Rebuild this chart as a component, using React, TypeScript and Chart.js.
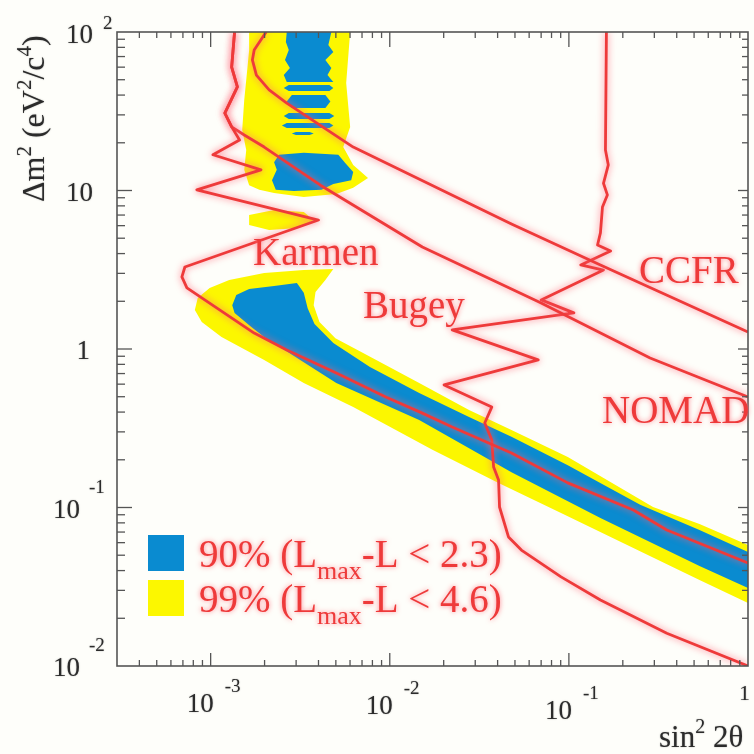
import React, { useEffect, useRef } from 'react';
import { Chart, registerables } from 'chart.js';

Chart.register(...registerables);

type P = [number, number];

// axis ranges (sin^2 2θ, Δm^2 in eV^2/c^4)
const xRange: P = [3.2e-4, 1];
const yRange: P = [0.01, 100];

const xTickValues = [1e-3, 1e-2, 1e-1, 1];
const xTickLabels: [string, string][] = [['10', '-3'], ['10', '-2'], ['10', '-1'], ['1', '']];
const yTickValues = [100, 10, 1, 0.1, 0.01];
const yTickLabels: [string, string][] = [['10', '2'], ['10', ''], ['1', ''], ['10', '-1'], ['10', '-2']];

const curveLabels = ['Karmen', 'Bugey', 'CCFR', 'NOMAD'];
const legendLabels: [string, string, string][] = [
  ['90% (L', 'max', '-L < 2.3)'],
  ['99% (L', 'max', '-L < 4.6)'],
];

// exclusion curves
const karmen: P[] = [
  [1.36e-3, 100], [1.31e-3, 60.1], [1.41e-3, 45.0], [1.2e-3, 30.8], [1.31e-3, 25.2], [1.45e-3, 20.8],
  [1.03e-3, 16.8], [1.91e-3, 13.5], [8.37e-4, 10.1], [4.0e-3, 6.51], [7.18e-4, 3.29], [6.91e-4, 2.85],
  [7.37e-4, 2.43], [8.92e-4, 2.1], [1.75e-3, 1.26], [2.66e-3, 0.986], [5.03e-3, 0.706], [9.5e-3, 0.498],
  [1.52e-2, 0.394], [2.23e-2, 0.322], [4.78e-2, 0.221], [9.86e-2, 0.143], [0.229, 0.0964], [0.352, 0.0721],
  [1, 0.0447],
];
const nomad: P[] = [
  [1.36e-3, 100], [1.31e-3, 60.1], [1.41e-3, 45.0], [1.2e-3, 30.8], [1.31e-3, 25.2], [1.54e-3, 22.4],
  [1.99e-3, 18.8], [4.1e-3, 10.8], [1.52e-2, 4.4], [7.0e-2, 1.95], [0.284, 0.877], [1, 0.498],
];
const ccfr: P[] = [
  [2.04e-3, 100], [1.75e-3, 76.9], [1.71e-3, 66.6], [1.8e-3, 53.5], [2.12e-3, 43.1], [2.66e-3, 35.6],
  [6.25e-3, 18.8], [4.78e-2, 6.15], [0.15, 3.39], [1, 1.28],
];
const bugey: P[] = [
  [0.162, 100], [0.16, 18.0], [0.166, 14.5], [0.156, 11.1], [0.164, 9.38], [0.154, 7.87], [0.15, 5.4],
  [0.1445, 4.53], [0.171, 4.15], [0.1165, 3.39], [0.156, 3.15], [0.07, 2.04], [0.1066, 1.69],
  [0.0223, 1.32], [0.0674, 0.853], [0.0201, 0.593], [0.0371, 0.43], [0.0339, 0.341], [0.0371, 0.267],
  [0.038, 0.18], [0.0405, 0.149], [0.041, 0.1007], [0.046, 0.0652], [0.0543, 0.0539], [0.0904, 0.0365],
  [0.15, 0.0261], [0.352, 0.0161], [1, 0.01],
];

// 99% region (yellow)
const band99: P[] = [
  [8.16e-4, 1.76], [8.47e-4, 2.1], [9.87e-4, 2.43], [1.27e-3, 2.72], [1.99e-3, 3.02], [3.31e-3, 3.15],
  [4.84e-3, 3.2], [4.37e-3, 2.72], [3.85e-3, 2.29], [3.76e-3, 1.89], [4.05e-3, 1.48], [4.97e-3, 1.17],
  [7.1e-3, 0.944], [1.46e-2, 0.61], [2.77e-2, 0.412], [4.78e-2, 0.308], [9.86e-2, 0.208], [0.295, 0.1007],
  [0.536, 0.0787], [1, 0.058], [1, 0.025], [0.536, 0.0349], [0.229, 0.0555], [9.04e-2, 0.0923],
  [4.05e-2, 0.143], [1.73e-2, 0.231], [6.25e-3, 0.43], [3.31e-3, 0.61], [1.99e-3, 0.853], [1.15e-3, 1.19],
  [8.92e-4, 1.48],
];
const top99: P[] = [
  [1.64e-3, 100], [6.01e-3, 100], [5.71e-3, 47.6], [6.01e-3, 25.2], [5.5e-3, 18.8], [6.25e-3, 14.5],
  [7.56e-3, 12.0], [6.25e-3, 10.4], [5.03e-3, 9.51], [3.31e-3, 9.1], [2.26e-3, 9.64], [1.87e-3, 10.1],
  [1.64e-3, 10.8], [1.54e-3, 13.5], [1.58e-3, 18.0], [1.5e-3, 24.1], [1.54e-3, 37.2], [1.6e-3, 57.6],
  [1.64e-3, 76.9],
];
const spike99: P[] = [
  [1.64e-3, 7.01], [2.26e-3, 7.54], [3.31e-3, 7.32], [3.76e-3, 6.51], [3.1e-3, 5.8], [2.12e-3, 5.63],
  [1.64e-3, 6.06],
];

// 90% region (blue)
const band90: P[] = [
  [1.32e-3, 1.89], [1.39e-3, 2.19], [1.64e-3, 2.39], [2.26e-3, 2.5], [3.03e-3, 2.61], [3.31e-3, 2.26],
  [3.48e-3, 1.81], [3.8e-3, 1.44], [4.84e-3, 1.09], [7.75e-3, 0.77], [1.46e-2, 0.528], [2.77e-2, 0.373],
  [4.78e-2, 0.279], [9.86e-2, 0.185], [0.25, 0.104], [0.536, 0.0721], [1, 0.0524], [1, 0.031],
  [0.536, 0.0428], [0.15, 0.0859], [4.78e-2, 0.167], [1.46e-2, 0.356], [5.03e-3, 0.61], [1.99e-3, 1.19],
  [1.68e-3, 1.38], [1.36e-3, 1.69],
];
const top90: P[] = [
  [2.66e-3, 100], [4.72e-3, 100], [4.54e-3, 82.8], [4.84e-3, 74.8], [4.37e-3, 66.6], [4.72e-3, 59.3],
  [4.49e-3, 53.5], [4.84e-3, 48.3], [2.66e-3, 48.3], [2.56e-3, 53.5], [2.77e-3, 59.3], [2.6e-3, 66.6],
  [2.73e-3, 76.9], [2.63e-3, 86.5],
];
const stripe90a: P[] = [[2.56e-3, 44.3], [2.73e-3, 46.3], [4.6e-3, 46.3], [4.84e-3, 44.3], [4.6e-3, 42.5], [2.73e-3, 42.5]];
const stripe90b: P[] = [[2.66e-3, 36.4], [2.84e-3, 40.1], [4.37e-3, 40.1], [4.66e-3, 36.4], [4.37e-3, 33.2], [2.84e-3, 33.2]];
const stripe90c: P[] = [[2.56e-3, 29.5], [2.73e-3, 30.8], [4.6e-3, 30.8], [4.9e-3, 29.5], [4.6e-3, 28.3], [2.73e-3, 28.3]];
const stripe90d: P[] = [[2.5e-3, 25.7], [2.66e-3, 26.7], [4.6e-3, 26.7], [4.84e-3, 25.7], [4.6e-3, 24.8], [2.66e-3, 24.8]];
const stripe90e: P[] = [[2.84e-3, 22.9], [2.99e-3, 23.4], [3.57e-3, 23.4], [3.76e-3, 22.9], [3.57e-3, 22.4], [2.99e-3, 22.4]];
const blob90: P[] = [
  [2.41e-3, 16.8], [3.31e-3, 17.3], [5.16e-3, 16.8], [5.64e-3, 14.9], [6.25e-3, 13.1], [6.09e-3, 11.6],
  [4.84e-3, 11.0], [4.16e-3, 10.1], [2.91e-3, 9.93], [2.31e-3, 10.1], [2.2e-3, 11.6], [2.34e-3, 13.5],
  [2.26e-3, 15.1],
];

const RED = '#ee3a3a';
const BLUE = '#0a8bd0';
const YELLOW = '#fcf700';
const FONT = '"Liberation Serif", "DejaVu Serif", serif';

const toPts = (a: P[]) => a.map(([x, y]) => ({ x, y }));
const region = (a: P[], color: string) => ({
  data: toPts(a), showLine: true, fill: 'shape', backgroundColor: color,
  borderColor: 'rgba(0,0,0,0)', borderWidth: 0, pointRadius: 0, tension: 0,
});
const curve = (a: P[]) => ({
  data: toPts(a), showLine: true, fill: false, borderColor: RED, borderWidth: 2.8,
  pointRadius: 0, tension: 0, glow: true, borderJoinStyle: 'round',
});

type Piece = [string, number, number];
function drawPieces(ctx: CanvasRenderingContext2D, pieces: Piece[], x: number, y: number) {
  let cx = x;
  for (const [t, size, raise] of pieces) {
    ctx.font = `${size}px ${FONT}`;
    ctx.fillText(t, cx, y - raise);
    cx += ctx.measureText(t).width;
  }
  return cx;
}

const glowPlugin = {
  id: 'glow',
  beforeDatasetDraw(chart: any, args: any) {
    const ds = chart.data.datasets[args.index];
    if (ds.glow) {
      const ctx = chart.ctx;
      ctx.save();
      ctx.shadowColor = 'rgba(255,100,120,0.9)';
      ctx.shadowBlur = 7;
    }
  },
  afterDatasetDraw(chart: any, args: any) {
    const ds = chart.data.datasets[args.index];
    if (ds.glow) chart.ctx.restore();
  },
};

const decorPlugin = {
  id: 'decor',
  beforeDraw(chart: any) {
    const ctx = chart.ctx;
    ctx.save();
    ctx.fillStyle = '#fefefa';
    ctx.fillRect(0, 0, chart.width, chart.height);
    ctx.restore();
  },
  afterDraw(chart: any) {
    const ctx: CanvasRenderingContext2D = chart.ctx;
    const xs = chart.scales.x;
    const ys = chart.scales.y;
    const { left, right, top, bottom } = chart.chartArea;
    ctx.save();
    // frame
    ctx.strokeStyle = '#555';
    ctx.lineWidth = 1.6;
    ctx.strokeRect(left, top, right - left, bottom - top);
    const seg = (x1: number, y1: number, x2: number, y2: number) => {
      ctx.beginPath(); ctx.moveTo(x1, y1); ctx.lineTo(x2, y2); ctx.stroke();
    };
    ctx.lineWidth = 1.3;
    for (let e = -4; e <= 0; e++) {
      for (let m = 1; m <= 9; m++) {
        const v = m * Math.pow(10, e);
        if (v < xRange[0] * 1.001 || v > xRange[1] * 0.999) continue;
        const px = xs.getPixelForValue(v);
        const major = m === 1;
        seg(px, bottom, px, bottom - (major ? 13 : 6));
        seg(px, top, px, top + (major ? 15 : 6));
      }
    }
    for (let e = -2; e <= 2; e++) {
      for (let m = 1; m <= 9; m++) {
        const v = m * Math.pow(10, e);
        if (v < yRange[0] * 1.001 || v > yRange[1] * 0.999) continue;
        const py = ys.getPixelForValue(v);
        const major = m === 1;
        seg(left, py, left + (major ? 15 : 8), py);
        seg(right, py, right - (major ? 10 : 6), py);
      }
    }

    // tick labels
    ctx.fillStyle = '#2b2b2b';
    ctx.shadowColor = 'rgba(0,0,0,0.35)';
    ctx.shadowBlur = 1.5;
    ctx.textBaseline = 'alphabetic';
    const xDy = [46, 48, 53, 34];
    xTickValues.forEach((v, i) => {
      const px = xs.getPixelForValue(v);
      const [b, ex] = xTickLabels[i];
      if (ex) {
        ctx.textAlign = 'left';
        ctx.font = `27px ${FONT}`;
        ctx.fillText(b, px - 24, bottom + xDy[i]);
        ctx.font = `19px ${FONT}`;
        ctx.fillText(ex, px + 14, bottom + xDy[i] - 20);
      } else {
        ctx.textAlign = 'right';
        ctx.font = `22px ${FONT}`;
        ctx.fillText(b, px + 2, bottom + xDy[i]);
      }
    });
    yTickValues.forEach((v, i) => {
      const py = ys.getPixelForValue(v);
      const [b, ex] = yTickLabels[i];
      ctx.font = `27px ${FONT}`;
      ctx.textAlign = 'right';
      if (!ex) {
        ctx.fillText(b, b === '1' ? 90 : 93, py + 10);
      } else if (ex.startsWith('-')) {
        ctx.fillText(b, 80, py + 10);
        ctx.textAlign = 'left';
        ctx.font = `19px ${FONT}`;
        ctx.fillText(ex, 89, py - 15);
      } else {
        ctx.fillText(b, 93, py + 11);
        ctx.textAlign = 'left';
        ctx.font = `19px ${FONT}`;
        ctx.fillText(ex, 103, py - 3);
      }
    });

    // axis titles
    ctx.textAlign = 'left';
    drawPieces(ctx, [['sin', 31, 0], ['2', 20, 14], [' 2θ', 31, 0]], 659, 747);
    ctx.save();
    ctx.translate(44, 202);
    ctx.rotate(-Math.PI / 2);
    drawPieces(ctx, [['Δm', 32, 0], ['2', 21, 13], [' (eV', 32, 0], ['2', 21, 13], ['/c', 32, 0], ['4', 21, 13], [')', 32, 0]], 0, 0);
    ctx.restore();

    // legend
    ctx.shadowBlur = 0;
    ctx.shadowColor = 'rgba(0,0,0,0)';
    ctx.fillStyle = BLUE;
    ctx.fillRect(148, 535, 36, 36);
    ctx.fillStyle = YELLOW;
    ctx.fillRect(148, 580, 36, 36);

    ctx.shadowColor = 'rgba(255,110,125,0.85)';
    ctx.shadowBlur = 5;
    ctx.fillStyle = RED;
    legendLabels.forEach(([a, sub, c], i) => {
      const base = 567 + i * 45;
      drawPieces(ctx, [[a, 39, 0], [sub, 26, -12], [c, 39, 0]], 199, base);
    });
    // curve labels
    ctx.font = `39px ${FONT}`;
    const labelPos: P[] = [[253, 265], [363, 318], [639, 283], [602, 423]];
    curveLabels.forEach((t, i) => ctx.fillText(t, labelPos[i][0], labelPos[i][1]));
    ctx.restore();
  },
};

export default function App() {
  const ref = useRef<HTMLCanvasElement>(null);
  useEffect(() => {
    const canvas = ref.current;
    if (!canvas) return;
    const datasets: any[] = [
      curve(karmen), curve(nomad), curve(ccfr), curve(bugey),
      region(top90, BLUE), region(stripe90a, BLUE), region(stripe90b, BLUE), region(stripe90c, BLUE),
      region(stripe90d, BLUE), region(stripe90e, BLUE), region(blob90, BLUE), region(band90, BLUE),
      region(top99, YELLOW), region(spike99, YELLOW), region(band99, YELLOW),
    ];
    const chart = new Chart(canvas, {
      type: 'scatter',
      data: { datasets },
      options: {
        responsive: false,
        animation: false,
        events: [],
        layout: { padding: { left: 117, right: 6, top: 32, bottom: 88 } },
        scales: {
          x: { type: 'logarithmic', min: xRange[0], max: xRange[1], display: false },
          y: { type: 'logarithmic', min: yRange[0], max: yRange[1], display: false },
        },
        plugins: { legend: { display: false }, tooltip: { enabled: false } },
      },
      plugins: [glowPlugin, decorPlugin],
    } as any);
    return () => chart.destroy();
  }, []);
  return (
    <div style={{ position: 'absolute', left: 0, top: 0, width: 754, height: 754 }}>
      <canvas ref={ref} width={754} height={754} style={{ width: 754, height: 754, display: 'block' }} />
    </div>
  );
}
